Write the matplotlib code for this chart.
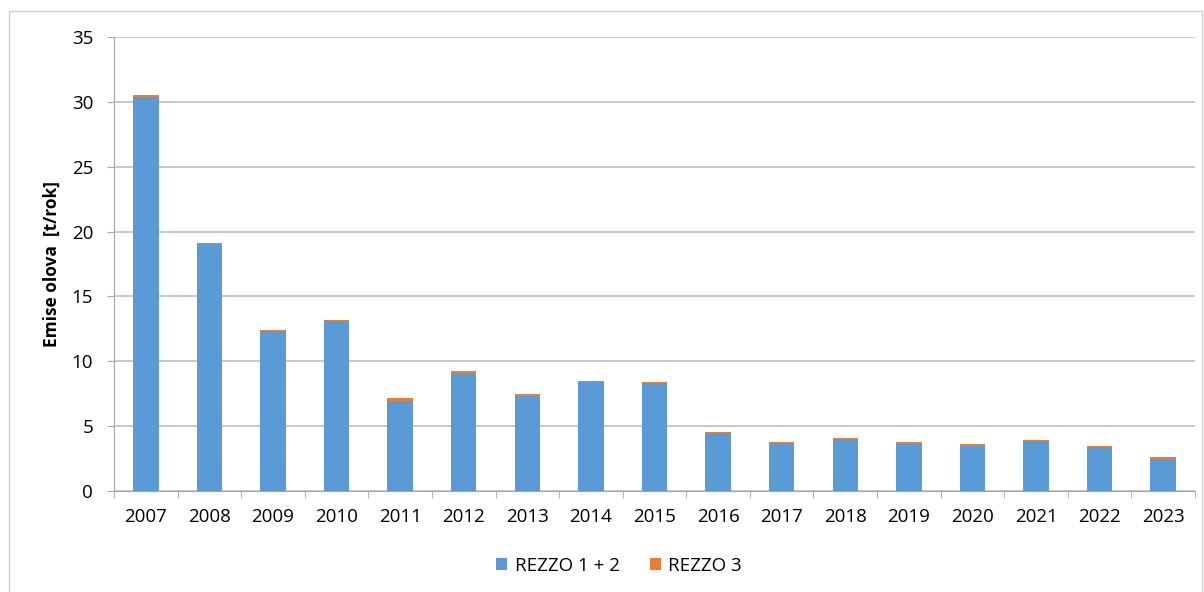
import matplotlib
matplotlib.use('Agg')
import matplotlib.pyplot as plt
import numpy as np

years = ['2007', '2008', '2009', '2010', '2011', '2012', '2013', '2014', '2015',
         '2016', '2017', '2018', '2019', '2020', '2021', '2022', '2023']
rezzo12 = [30.38, 19.05, 12.34, 13.10, 6.96, 9.10, 7.32, 8.38, 8.33,
           4.45, 3.70, 4.01, 3.60, 3.45, 3.86, 3.37, 2.47]
rezzo3 = [0.15, 0.08, 0.07, 0.06, 0.19, 0.18, 0.16, 0.10, 0.07,
          0.07, 0.08, 0.08, 0.18, 0.17, 0.07, 0.10, 0.15]

plt.rcParams['font.family'] = ['Open Sans', 'DejaVu Sans']

fig = plt.figure(figsize=(12.04, 5.92), dpi=100)
ax = fig.add_axes([114 / 1204, 1 - 491 / 592, (1195 - 114) / 1204, (491 - 37) / 592])

# outer chart frame
fig.patches.append(plt.Rectangle((9 / 1204, -0.05), 1193 / 1204, 1 - 11 / 592 + 0.05,
                                 transform=fig.transFigure, fill=False,
                                 edgecolor='#d0d0d0', linewidth=1))

x = np.arange(len(years))
ax.bar(x, rezzo12, width=0.4, color='#5B9BD5', label='REZZO 1 + 2', zorder=3)
ax.bar(x, rezzo3, width=0.4, bottom=rezzo12, color='#ED7D31', label='REZZO 3', zorder=3)

ax.set_xlim(-0.5, len(years) - 0.5)
ax.set_ylim(0, 35)
ax.set_yticks(range(0, 36, 5))
ax.set_xticks(x)
ax.set_xticklabels(years)
ax.set_xticks(np.arange(-0.5, len(years), 1), minor=True)
ax.tick_params(axis='x', which='major', length=0, pad=12, labelsize=13.5)
ax.tick_params(axis='x', which='minor', length=5, color='#a6a6a6')
ax.tick_params(axis='y', length=5, color='#a6a6a6', pad=10, labelsize=13.5)
ax.yaxis.grid(True, color='#bfbfbf', linewidth=1.2, zorder=0)

for s in ['top', 'right']:
    ax.spines[s].set_visible(False)
for s in ['left', 'bottom']:
    ax.spines[s].set_color('#a6a6a6')

ax.set_ylabel('Emise olova  [t/rok]', fontsize=12.5, fontweight='bold', labelpad=8)

fig.legend(*ax.get_legend_handles_labels(), loc='center',
           bbox_to_anchor=(619 / 1204, 1 - 566 / 592), ncol=2, frameon=False,
           fontsize=13.5, handlelength=0.6, handleheight=0.6, columnspacing=1.6,
           handletextpad=0.4)

fig.savefig('out.png', dpi=100)
